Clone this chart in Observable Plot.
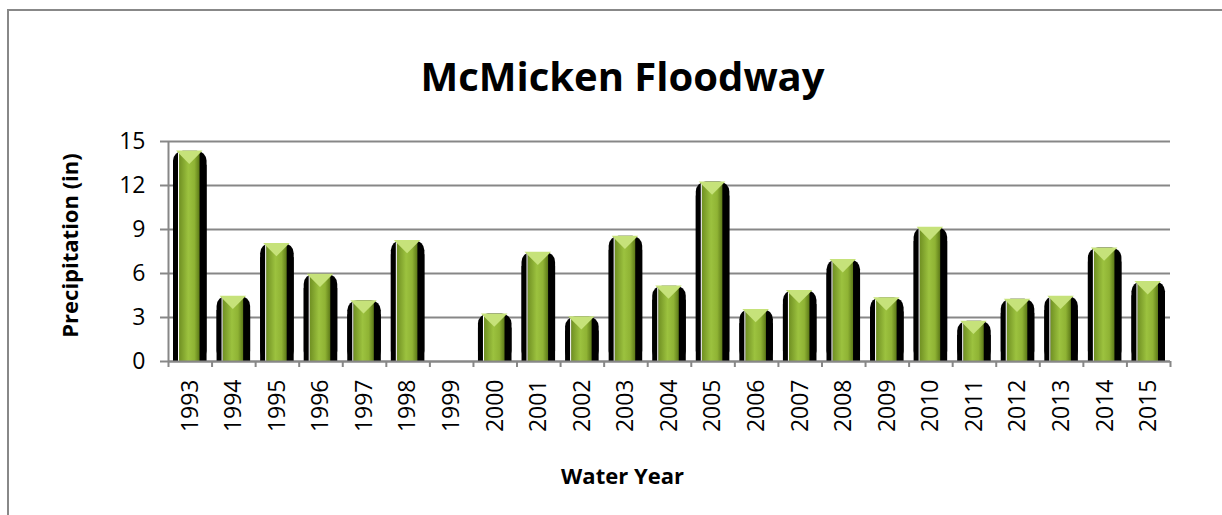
<!DOCTYPE html>
<html>
<head>
<meta charset="utf-8">
<script src="https://cdn.jsdelivr.net/npm/d3@7"></script>
<script src="https://cdn.jsdelivr.net/npm/@observablehq/plot@0.6"></script>
<style>
  html, body { margin: 0; padding: 0; background: #fff; }
  #wrap { position: relative; width: 1222px; height: 515px; overflow: hidden; background: #fff; }
  #border { position: absolute; left: 7px; top: 9px; width: 1300px; height: 600px; border: 2px solid #888; box-sizing: border-box; }
  #chart { position: absolute; left: 0; top: 0; }
  #chart svg { overflow: visible; }
</style>
</head>
<body>
<div id="wrap">
  <div id="border"></div>
  <div id="chart"></div>
</div>
<script>
const years = [1993, 1994, 1995, 1996, 1997, 1998, 1999, 2000, 2001, 2002, 2003, 2004,
               2005, 2006, 2007, 2008, 2009, 2010, 2011, 2012, 2013, 2014, 2015];
const precipitation = [14.2, 4.3, 7.9, 5.8, 4.0, 8.1, 0, 3.1, 7.3, 2.9, 8.4, 5.0,
                       12.1, 3.4, 4.7, 6.8, 4.2, 9.0, 2.6, 4.1, 4.3, 7.6, 5.3];
const yTicks = [0, 3, 6, 9, 12, 15];
const titleText = "McMicken Floodway";
const xTitle = "Water Year";
const yTitle = "Precipitation (in)";

const data = years.map((year, i) => ({year, value: precipitation[i]}));
const boundaries = years.map(y => y - 0.5).concat([years[years.length - 1] + 0.5]);
const barData = data.filter(d => d.value > 0);

const FONT = "'Open Sans', sans-serif";
const GRAY = "#878787";

// flat downward-pointing triangle
const flatTriangle = {
  draw(context, size) {
    const w = Math.sqrt(size) * 0.75;
    const h = w * 0.5;
    context.moveTo(-w, -h);
    context.lineTo(w, -h);
    context.lineTo(0, h);
    context.closePath();
  }
};

const chart = Plot.plot({
  width: 1222,
  height: 515,
  marginLeft: 168,
  marginRight: 52,
  marginTop: 141,
  marginBottom: 154,
  style: {fontFamily: FONT, color: "#000", background: "transparent"},
  x: {type: "linear", domain: [boundaries[0], boundaries[boundaries.length - 1]], axis: null},
  y: {domain: [0, 15], axis: null},
  marks: [
    Plot.gridY(yTicks, {stroke: GRAY, strokeOpacity: 1, strokeWidth: 2}),
    Plot.axisY({ticks: yTicks, tickSize: 8, tickPadding: 15, stroke: GRAY, strokeWidth: 2, fontSize: 23, fill: "#000", label: null}),
    // black rounded shadow
    Plot.rectY(barData, {x1: d => d.year - 0.5, x2: d => d.year + 0.5, y: "value",
      insetLeft: 5, insetRight: 5, insetTop: -2, rx: 10, fill: "#000"}),
    Plot.rectY(barData, {x1: d => d.year - 0.5, x2: d => d.year + 0.5, y: "value",
      insetLeft: 5, insetRight: 5, insetTop: 12, fill: "#000"}),
    // green bar
    Plot.rectY(barData, {x1: d => d.year - 0.5, x2: d => d.year + 0.5, y: "value",
      insetLeft: 11, insetRight: 12, fill: "url(#greenGrad)"}),
    // white highlight on left edge
    Plot.rectY(barData, {x1: d => d.year - 0.5, x2: d => d.year + 0.5, y: "value",
      insetLeft: 10, insetRight: 32.5, fill: "#fff"}),
    // light triangle at top
    Plot.dot(barData, {x: "year", y: "value", symbol: flatTriangle, r: 10, dx: -1, dy: 4, fill: "#c6e27a", stroke: "none"}),
    // axes lines
    Plot.ruleY([0], {stroke: GRAY, strokeWidth: 2}),
    Plot.ruleX([boundaries[0]], {stroke: GRAY, strokeWidth: 2}),
    Plot.axisX({ticks: boundaries, tickSize: 6, tickFormat: () => "", stroke: GRAY, strokeWidth: 2, label: null}),
    Plot.axisX({ticks: years, tickSize: 0, tickPadding: 18, tickRotate: -90, tickFormat: d => String(d), fontSize: 23, fill: "#000", label: null}),
    // titles
    Plot.text([titleText], {frameAnchor: "top", dx: -47, dy: -79, fontSize: 40, fontWeight: "bold", fill: "#000"}),
    Plot.text([yTitle], {frameAnchor: "left", textAnchor: "middle", rotate: -90, dx: -98, dy: -6, fontSize: 22, fontWeight: "bold", fill: "#000"}),
    Plot.text([xTitle], {frameAnchor: "bottom", dx: -47, dy: 122, fontSize: 22, fontWeight: "bold", fill: "#000"})
  ]
});

// gradient definition
const defs = d3.select(chart).insert("defs", ":first-child");
const g = defs.append("linearGradient").attr("id", "greenGrad")
  .attr("x1", "0%").attr("x2", "100%").attr("y1", "0%").attr("y2", "0%");
g.append("stop").attr("offset", "0%").attr("stop-color", "#6f8f22");
g.append("stop").attr("offset", "45%").attr("stop-color", "#9cc23f");
g.append("stop").attr("offset", "75%").attr("stop-color", "#8fb334");
g.append("stop").attr("offset", "100%").attr("stop-color", "#5d7a18");

document.getElementById("chart").appendChild(chart);
</script>
</body>
</html>
